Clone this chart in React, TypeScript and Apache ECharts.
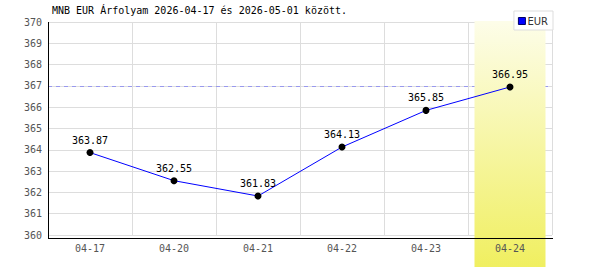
import React, { useEffect, useRef } from "react";
import * as echarts from "echarts";

const categories = ["04-17", "04-20", "04-21", "04-22", "04-23", "04-24"];
const eurValues = [363.87, 362.55, 361.83, 364.13, 365.85, 366.95];
const referenceLine = 367;
const highlightCategory = "04-24";
const titleText = "MNB EUR Árfolyam 2026-04-17 és 2026-05-01 között.";

export default function App() {
  const ref = useRef<HTMLDivElement>(null);
  useEffect(() => {
    document.body.style.margin = "0";
    if (!ref.current) return;
    const chart = echarts.init(ref.current, null, { renderer: "svg" });
    const mono = "DejaVu Sans Mono";
    const gridLeft = 48;
    const gridTop = 22;
    const gridBottom = 35;
    const W = 600;
    const H = 270;
    const option: any = {
      animation: false,
      backgroundColor: "#ffffff",
      title: {
        text: titleText,
        left: 52,
        top: 5,
        padding: 0,
        textStyle: { fontFamily: mono, fontSize: 10, fontWeight: "normal", color: "#000" },
      },
      legend: {
        data: [{ name: "EUR", icon: "rect" }],
        right: 47,
        top: 11,
        padding: [5, 5, 4, 4],
        itemWidth: 7,
        itemHeight: 7,
        borderColor: "#dddddd",
        borderWidth: 1,
        backgroundColor: "#ffffff",
        itemStyle: { color: "#0000ff", borderColor: "#000066", borderWidth: 1 },
        textStyle: { fontFamily: "DejaVu Sans", fontSize: 10, color: "#333", padding: [0, 0, 0, -3] },
      },
      grid: { left: gridLeft, right: 48, top: gridTop, bottom: gridBottom, containLabel: false },
      xAxis: [
        {
          type: "category",
          data: categories,
          boundaryGap: true,
          z: 0,
          axisLine: { show: false },
          axisTick: { show: false },
          axisLabel: { show: false },
          splitLine: { show: true, lineStyle: { color: "#dddddd", width: 1 } },
        },
        {
          type: "category",
          data: categories,
          boundaryGap: true,
          position: "bottom",
          offset: 3.5,
          z: 20,
          axisLine: { show: false },
          axisTick: { show: false },
          splitLine: { show: false },
          axisLabel: { fontFamily: mono, fontSize: 10, color: "#555", margin: 5 },
        },
      ],
      yAxis: {
        type: "value",
        min: 360,
        max: 370,
        interval: 1,
        axisLine: { show: false },
        axisTick: { show: false },
        splitLine: { show: true, lineStyle: { color: "#dddddd", width: 1 } },
        axisLabel: { fontFamily: mono, fontSize: 10, color: "#555", margin: 6 },
      },
      series: [
        {
          name: "ref",
          type: "line",
          data: [],
          z: 0,
          silent: true,
          markLine: {
            silent: true,
            symbol: "none",
            label: { show: false },
            lineStyle: { color: "#9999ee", type: [4, 4], width: 1 },
            data: [{ yAxis: referenceLine }],
            z: 0,
          },
        },
        {
          name: "EUR",
          type: "line",
          data: eurValues,
          z: 5,
          color: "#0000ff",
          lineStyle: { color: "#0000ff", width: 1 },
          symbol: "circle",
          symbolSize: 7,
          itemStyle: { color: "#000000" },
          label: {
            show: true,
            position: "top",
            distance: 4,
            fontFamily: mono,
            fontSize: 10,
            color: "#000",
            formatter: (p: any) => p.value.toFixed(2),
          },
        },
      ],
    };
    chart.setOption(option);
    const cx = chart.convertToPixel({ xAxisIndex: 0 }, highlightCategory) as number;
    const yBottom = H - gridBottom;
    const xRight = W - 48;
    chart.setOption({
      graphic: [
        {
          type: "rect",
          z: 1,
          silent: true,
          shape: { x: cx - 35.5, y: 21, width: 71, height: H - 21 - 3 },
          style: {
            fill: new echarts.graphic.LinearGradient(0, 0, 0, 1, [
              { offset: 0, color: "#fdfde9" },
              { offset: 1, color: "#f0ef60" },
            ]),
          },
        },
        {
          type: "line",
          z: 10,
          silent: true,
          shape: { x1: gridLeft + 0.5, y1: gridTop, x2: gridLeft + 0.5, y2: yBottom + 4 },
          style: { stroke: "#000", lineWidth: 1 },
        },
        {
          type: "line",
          z: 10,
          silent: true,
          shape: { x1: gridLeft, y1: yBottom + 3.5, x2: xRight + 1, y2: yBottom + 3.5 },
          style: { stroke: "#000", lineWidth: 1 },
        },
      ],
    });
    return () => chart.dispose();
  }, []);
  return <div ref={ref} style={{ width: 600, height: 270 }} />;
}
